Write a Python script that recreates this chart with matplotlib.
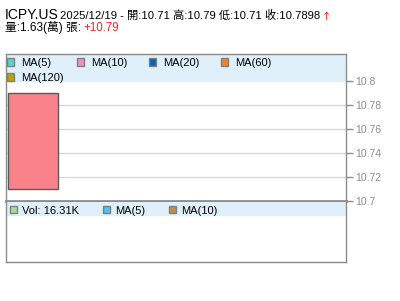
import matplotlib
matplotlib.use('Agg')
import matplotlib.pyplot as plt
from matplotlib.patches import Rectangle

plt.rcParams['font.family'] = ['Liberation Sans', 'Noto Sans CJK TC', 'DejaVu Sans']

# 資料
symbol = 'ICPY.US'
dates = ['2025/12/19']
opens = [10.71]
highs = [10.79]
lows = [10.71]
closes = [10.7898]
vol_wan = [1.63]      # 萬張
vol_k = [16.31]       # K
change = [10.79]

price_ticks = [10.7, 10.72, 10.74, 10.76, 10.78, 10.8]
ma_names = ['MA(5)', 'MA(10)', 'MA(20)', 'MA(60)', 'MA(120)']
ma_colors = ['#4fd6d0', '#f58fba', '#0b63b5', '#f7821f', '#b6a500']
vol_names = ['Vol: %.2fK' % vol_k[-1], 'MA(5)', 'MA(10)']
vol_colors = ['#a6e08c', '#5abfee', '#c48c48']

W, H = 400, 301
fig = plt.figure(figsize=(W / 100, H / 100), dpi=100)

def fx(px):
    return px / W

def fy(py):
    return 1 - py / H

# 標題
fig.text(fx(5), fy(19), symbol, fontsize=10, color='black', va='baseline')
line1 = '%s - 開:%.2f 高:%.2f 低:%.2f 收:%.4f' % (dates[-1], opens[-1], highs[-1], lows[-1], closes[-1])
fig.text(fx(60), fy(19), line1, fontsize=8.15, color='black', va='baseline')
fig.text(fx(322), fy(19.5), '↑', fontsize=8, color='#ff2020', va='baseline',
         family=['DejaVu Sans'])
fig.text(fx(5), fy(31), '量:%.2f(萬) 張:' % vol_wan[-1], fontsize=8.5, color='black', va='baseline')
fig.text(fx(83), fy(31), '+%.2f' % change[-1], fontsize=8.3, color='#ff2020', va='baseline')

grey = '#8c8c8c'

# 主圖
top, bot = 54, 201
ax = fig.add_axes([fx(5.5), fy(bot), fx(345.5) - fx(5.5), (bot - top) / H])
ymin = 10.7
ymax = 10.8 + 0.1 * (81 - top) / (bot - 81)
ax.set_ylim(ymin, ymax)
ax.set_xlim(-0.5, 340 / 55 - 0.5)
ax.axhspan(10.8, ymax, color='#dff0fa', zorder=0)
for v in price_ticks[1:-1]:
    ax.axhline(v, color='#d9d9d9', lw=1, zorder=1)
for i in range(len(dates)):
    ax.vlines(i, lows[i], highs[i], color='#555555', lw=1, zorder=2)
    ax.bar(i, closes[i] - opens[i], bottom=opens[i], width=0.91, color='#fa838b',
           edgecolor='#5a5a5a', lw=1, zorder=3)
ax.yaxis.tick_right()
ax.set_yticks(price_ticks)
ax.set_yticklabels(['%g' % v for v in price_ticks])
ax.tick_params(axis='y', length=5, width=1, color=grey, labelcolor=grey, labelsize=7.5, pad=2)
ax.set_xticks([])
for s in ax.spines.values():
    s.set_color(grey)
    s.set_linewidth(1)
ax.spines['bottom'].set_linewidth(2)

# 主圖圖例
leg_pos = [(7, 62), (77, 62), (149, 62), (221, 62), (7, 77)]
for (px, py), name, c in zip(leg_pos, ma_names, ma_colors):
    fig.patches.append(Rectangle((fx(px), fy(py + 3.5)), 7 / W, 7 / H, transform=fig.transFigure,
                                 facecolor=c, edgecolor='#808080', lw=1))
    fig.text(fx(px + 14), fy(py + 4), name, fontsize=8, color='black', va='baseline')

# 成交量
vtop, vbot = 202, 262
vax = fig.add_axes([fx(5.5), fy(vbot), fx(345.5) - fx(5.5), (vbot - vtop) / H])
vax.set_xlim(ax.get_xlim())
vax.set_ylim(0, 1)
vax.axhspan((vbot - 215) / (vbot - vtop), 1, color='#dff0fa', zorder=0)
vax.set_xticks([])
vax.set_yticks([])
for s in vax.spines.values():
    s.set_color(grey)
    s.set_linewidth(1)
vax.spines['top'].set_visible(False)

vleg_pos = [(10, 209.5), (103, 209.5), (169, 209.5)]
for (px, py), name, c in zip(vleg_pos, vol_names, vol_colors):
    fig.patches.append(Rectangle((fx(px), fy(py + 3.5)), 7 / W, 7 / H, transform=fig.transFigure,
                                 facecolor=c, edgecolor='#808080', lw=1))
    fig.text(fx(px + 12), fy(py + 4), name, fontsize=8, color='black', va='baseline')

fig.savefig('out.png', dpi=100)
